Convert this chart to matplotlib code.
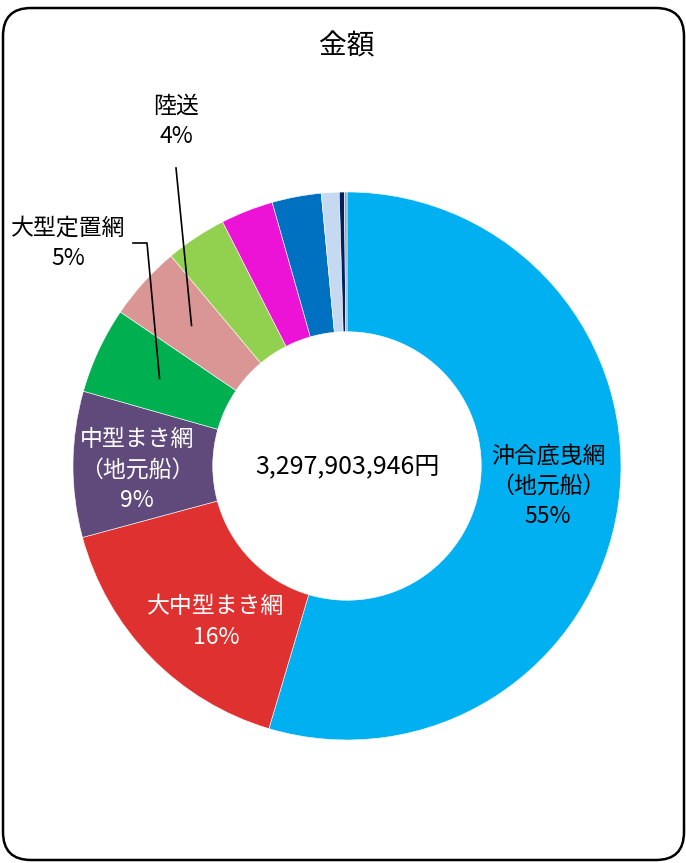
import matplotlib
matplotlib.use("Agg")
import matplotlib.pyplot as plt
from matplotlib.patches import FancyBboxPatch
import numpy as np

plt.rcParams['font.family'] = ['Noto Sans CJK JP', 'DejaVu Sans']

# share of total amount (%), clockwise from 12 o'clock
categories = ["沖合底曳網\n（地元船）", "大中型まき網", "中型まき網\n（地元船）", "大型定置網", "陸送",
              "その他1", "その他2", "その他3", "その他4", "その他5", "その他6"]
shares = [54.6, 16.2, 8.6, 5.1, 4.4, 3.6, 3.1, 2.9, 1.05, 0.3, 0.15]
pct_labels = ["55%", "16%", "9%", "5%", "4%"]
colors = ["#00B0F0", "#E03131", "#604A7B", "#00B050", "#DA9694", "#92D050",
          "#EC13D6", "#0070C0", "#C5D9F1", "#002060", "#8EA9C8"]
total_text = "3,297,903,946円"
title = "金額"

W, H = 686, 863
fig = plt.figure(figsize=(W / 100, H / 100), dpi=100)

# rounded outer frame
frame = FancyBboxPatch((0.03, 0.03), 6.81, 8.52, boxstyle="round,pad=0,rounding_size=0.28",
                       transform=fig.dpi_scale_trans, facecolor="white", edgecolor="black",
                       linewidth=1.8, zorder=-5)
fig.patches.append(frame)

# pie axes: centre (347, 466) px, radius 274 px
cx, cy, R = 347, 466, 274
ax = fig.add_axes([(cx - R) / W, (H - cy - R) / H, 2 * R / W, 2 * R / H])
ax.set_facecolor("none")
wedges, _ = ax.pie(shares, colors=colors, startangle=90, counterclock=False, radius=1,
                   wedgeprops=dict(width=0.51, edgecolor="white", linewidth=0.4))
ax.set_xlim(-1, 1)
ax.set_ylim(-1, 1)
ax.set_aspect("equal")
ax.axis("off")


def px(x, y):
    return (x - cx) / R, (cy - y) / R


def mid_point(w, r):
    a = np.deg2rad((w.theta1 + w.theta2) / 2)
    return r * np.cos(a), r * np.sin(a)


fs = 16.5
ls = 1.4
# labels inside wedges
ax.text(*px(548, 486), categories[0] + "\n" + pct_labels[0], ha="center", va="center",
        fontsize=fs, color="black", linespacing=ls)
ax.text(*px(216, 622), categories[1] + "\n" + pct_labels[1], ha="center", va="center",
        fontsize=fs, color="white", linespacing=ls)
ax.text(*px(137, 470), categories[2] + "\n" + pct_labels[2], ha="center", va="center",
        fontsize=fs, color="white", linespacing=ls)

# outside labels with leader lines
ax.text(*px(68, 243), categories[3] + "\n" + pct_labels[3], ha="center", va="center",
        fontsize=fs, color="black", linespacing=ls, clip_on=False)
gx, gy = mid_point(wedges[3], 0.755)
ax.plot([px(133, 243)[0], px(147, 243)[0], gx], [px(133, 243)[1], px(147, 243)[1], gy],
        color="black", lw=1.2, clip_on=False)

ax.text(*px(176, 121), categories[4] + "\n" + pct_labels[4], ha="center", va="center",
        fontsize=fs, color="black", linespacing=ls, clip_on=False)
lx, ly = mid_point(wedges[4], 0.765)
ax.plot([px(176, 168)[0], lx], [px(176, 168)[1], ly], color="black", lw=1.2, clip_on=False)

# centre total
ax.text(0, 0, total_text, ha="center", va="center", fontsize=18, color="black")

fig.text(cx / W, 1 - 46 / H, title, ha="center", va="center", fontsize=20, color="black")

fig.savefig("out.png", dpi=100)
